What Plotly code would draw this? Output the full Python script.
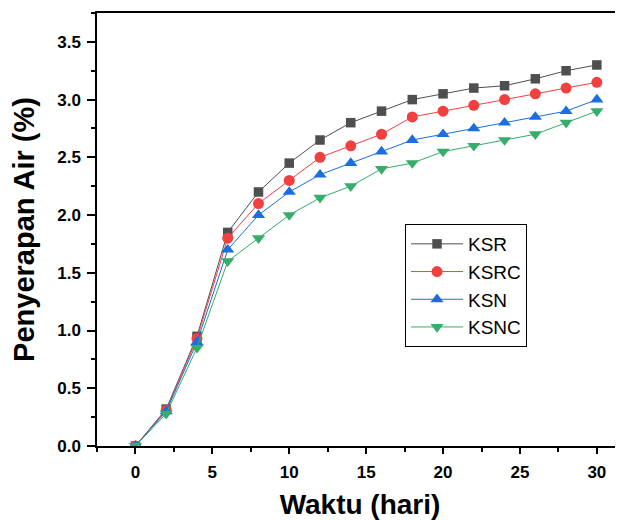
import plotly.graph_objects as go

waktu = [0, 2, 4, 6, 8, 10, 12, 14, 16, 18, 20, 22, 24, 26, 28, 30]
ksr = [0, 0.32, 0.95, 1.85, 2.20, 2.45, 2.65, 2.80, 2.90, 3.00, 3.05, 3.10, 3.12, 3.18, 3.25, 3.30]
ksrc = [0, 0.31, 0.93, 1.80, 2.10, 2.30, 2.50, 2.60, 2.70, 2.85, 2.90, 2.95, 3.00, 3.05, 3.10, 3.15]
ksn = [0, 0.30, 0.90, 1.70, 2.00, 2.20, 2.35, 2.45, 2.55, 2.65, 2.70, 2.75, 2.80, 2.85, 2.90, 3.00]
ksnc = [0, 0.28, 0.85, 1.60, 1.80, 2.00, 2.15, 2.25, 2.40, 2.45, 2.55, 2.60, 2.65, 2.70, 2.80, 2.90]

series = [
    ("KSR", ksr, "#4f4f4f", "square", 9.5),
    ("KSRC", ksrc, "#F14040", "circle", 11),
    ("KSN", ksn, "#1A6FDF", "triangle-up", 11.5),
    ("KSNC", ksnc, "#37AD6B", "triangle-down", 11.5),
]

FONT = "Liberation Sans, Arial, sans-serif"

fig = go.Figure()
for name, vals, color, sym, size in series:
    fig.add_trace(go.Scatter(
        x=waktu, y=vals, name=name, mode="lines+markers",
        line=dict(color=color, width=1),
        marker=dict(symbol=sym, size=size, color=color, line=dict(width=0)),
    ))

axis_common = dict(
    showline=True, linecolor="black", linewidth=1.5,
    ticks="outside", tickwidth=1.5, tickcolor="black",
    showgrid=False, zeroline=False, automargin=False,
    tickfont=dict(family=FONT, size=17, color="black", weight="bold"),
)

# The page body has an 8px margin, so the figure is drawn 8px in from the top-left.
fig.update_layout(
    width=615, height=512,
    margin=dict(l=89, r=0, t=5, b=74),
    paper_bgcolor="white", plot_bgcolor="white",
    font=dict(family=FONT, color="black"),
    xaxis=dict(
        range=[-2.5, 31.7], dtick=5, tick0=0, mirror=True, ticklen=6,
        minor=dict(dtick=2.5, tick0=0, ticks="outside", ticklen=4, tickwidth=1.5, tickcolor="black"),
        title=dict(text="Waktu (hari)", font=dict(family=FONT, size=28, weight="bold"), standoff=23),
        ticklabelstandoff=4,
        **axis_common,
    ),
    yaxis=dict(
        range=[0, 3.75], dtick=0.5, tick0=0, tickformat=".1f", ticklen=8,
        minor=dict(dtick=0.25, tick0=0, ticks="outside", ticklen=4, tickwidth=1.5, tickcolor="black"),
        title=dict(text="Penyerapan Air (%)", font=dict(family=FONT, size=29, weight="bold"), standoff=14),
        ticklabelstandoff=3,
        **axis_common,
    ),
    legend=dict(
        x=0.5856, y=0.5127, xanchor="left", yanchor="top",
        bordercolor="black", borderwidth=1, bgcolor="white",
        font=dict(family=FONT, size=19, color="black"),
        itemwidth=52, tracegroupgap=0,
    ),
    showlegend=True,
)

fig.write_html("out.html")
